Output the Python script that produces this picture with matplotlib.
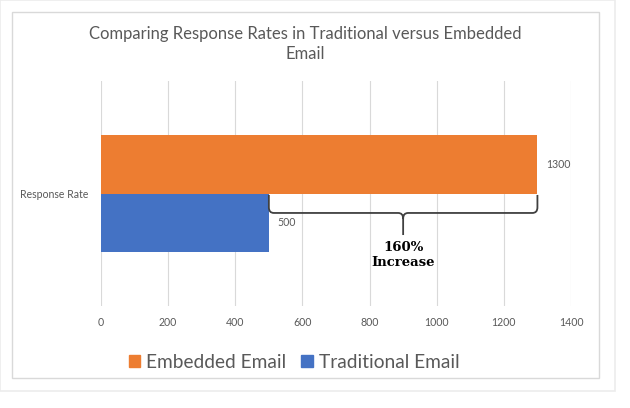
import matplotlib.pyplot as plt
from matplotlib.patches import Patch, Rectangle, PathPatch
from matplotlib.path import Path

plt.rcParams["font.family"] = ["Lato", "DejaVu Sans"]

# data
category = "Response Rate"
series = ["Embedded Email", "Traditional Email"]
values = [1300, 500]
colors = ["#ED7D31", "#4472C4"]
xticks = [0, 200, 400, 600, 800, 1000, 1200, 1400]
note = "160%\nIncrease"

W, H = 630, 408
fig = plt.figure(figsize=(W / 100, H / 100), dpi=100)

# chart frame and the faint outer shadow (behind the axes)
fig.patches.append(Rectangle((0, 1 - 391 / H), 615 / W, 391 / H, transform=fig.transFigure,
                             fill=False, edgecolor="#ececec", linewidth=1.2, zorder=-2))
fig.patches.append(Rectangle((12 / W, 1 - 378 / H), 587 / W, 366 / H, transform=fig.transFigure,
                             facecolor="white", edgecolor="#d9d9d9", linewidth=1.0, zorder=-1))

ax = fig.add_axes([101 / W, 1 - 306 / H, 470 / W, 225 / H])
ax.set_facecolor("none")

bar_h = 0.524
offsets = [bar_h / 2, -bar_h / 2]
for name, val, col, off in zip(series, values, colors, offsets):
    ax.barh(off, val, height=bar_h, color=col, zorder=2)
    ax.text(val + 26, off, str(val), va="center", ha="left", fontsize=7.6, color="#595959")

ax.set_xlim(0, 1400)
ax.set_ylim(-1, 1)
ax.set_xticks(xticks)
ax.set_xticklabels([str(t) for t in xticks], fontsize=7.6, color="#595959")
ax.set_yticks([0])
ax.set_yticklabels([category], fontsize=7.6, color="#595959")
ax.tick_params(length=0, axis="x", pad=8)
ax.tick_params(length=0, axis="y", pad=9)
ax.grid(axis="x", color="#d9d9d9", linewidth=0.8, zorder=0)
for s in ax.spines.values():
    s.set_visible(False)

# curly bracket between the two bar ends
lo, hi = min(values), max(values)
mid = (lo + hi) / 2
top, bot, tip = -0.013, -0.173, -0.369
rx, ry = 15, 0.05
verts = [(lo, top), (lo, bot + ry), (lo, bot), (lo + rx, bot), (mid - rx, bot), (mid, bot), (mid, bot - ry),
         (mid, tip),
         (mid, bot - ry), (mid, bot), (mid + rx, bot), (hi - rx, bot), (hi, bot), (hi, bot + ry), (hi, top)]
codes = [Path.MOVETO, Path.LINETO, Path.CURVE3, Path.CURVE3, Path.LINETO, Path.CURVE3, Path.CURVE3,
         Path.LINETO,
         Path.MOVETO, Path.CURVE3, Path.CURVE3, Path.LINETO, Path.CURVE3, Path.CURVE3, Path.LINETO]
ax.add_patch(PathPatch(Path(verts, codes), fill=False, edgecolor="#404040", linewidth=1.3, zorder=3))
ax.text(mid, -0.55, note, ha="center", va="center", fontsize=9.5, fontweight="bold",
        family="DejaVu Serif", color="black", linespacing=1.2)

fig.text(305 / W, 1 - 44 / H, "Comparing Response Rates in Traditional versus Embedded\nEmail",
         ha="center", va="center", fontsize=12, color="#595959", linespacing=1.35)

handles = [Patch(facecolor=c, edgecolor=c) for c in colors]
fig.legend(handles, series, loc="center", bbox_to_anchor=(294 / W, 1 - 362 / H), ncol=2,
           frameon=False, fontsize=13.8, labelcolor="#595959", handlelength=0.6, handleheight=0.6,
           handletextpad=0.3, columnspacing=0.8)

fig.savefig("out.png", dpi=100)
